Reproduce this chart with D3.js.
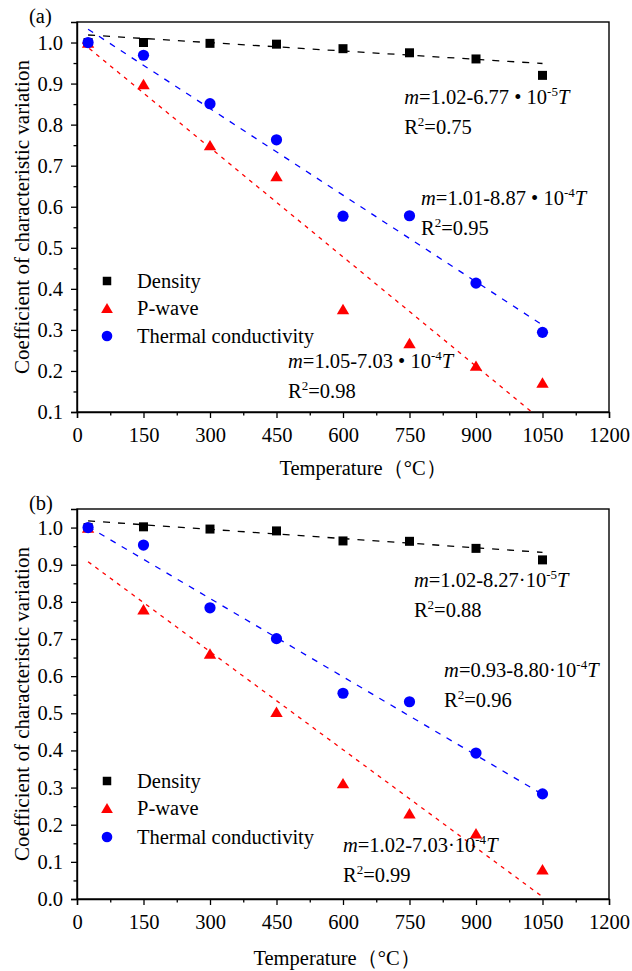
<!DOCTYPE html>
<html>
<head>
<meta charset="utf-8">
<script src="https://cdn.jsdelivr.net/npm/d3@7"></script>
<style>
  html, body { margin: 0; padding: 0; background: #fff; }
</style>
</head>
<body>
<svg id="chart" width="632" height="971"></svg>
<script>
// ---- data ----
const temperatures = [25, 150, 300, 450, 600, 750, 900, 1050];
const xTickValues = [0, 150, 300, 450, 600, 750, 900, 1050, 1200];
const seriesNames = ["Density", "P-wave", "Thermal conductivity"];

// panel (a)
const densityA = [1.000, 1.000, 0.998, 0.996, 0.985, 0.975, 0.960, 0.920];
const pwaveA   = [1.000, 0.899, 0.750, 0.675, 0.351, 0.268, 0.213, 0.172];
const thermalA = [1.000, 0.969, 0.851, 0.763, 0.577, 0.578, 0.414, 0.294];
// fitted lines: [intercept, mantissa, exponent, R²] -> m = intercept - mantissa·10^exponent·T
const fitDensityA = [1.02, 6.77, -5, 0.75];
const fitPwaveA   = [1.01, 8.87, -4, 0.95];
const fitThermalA = [1.05, 7.03, -4, 0.98];

// panel (b)
const densityB = [1.000, 1.002, 0.996, 0.991, 0.964, 0.963, 0.944, 0.913];
const pwaveB   = [1.000, 0.780, 0.661, 0.504, 0.312, 0.231, 0.177, 0.080];
const thermalB = [1.000, 0.953, 0.784, 0.701, 0.554, 0.531, 0.393, 0.283];
const fitDensityB = [1.02, 8.27, -5, 0.88];
const fitPwaveB   = [0.93, 8.80, -4, 0.96];
const fitThermalB = [1.02, 7.03, -4, 0.99];

// ---- drawing ----
const svg = d3.select("#chart");
const colors = ["#000000", "#ff0000", "#0000ff"];
const SERIF = "'Liberation Serif', 'Times New Roman', serif";
const FONT = 20.5;

function fitValue(fit, t) {
  return fit[0] - fit[1] * Math.pow(10, fit[2]) * t;
}

function markerPath(kind, s) {
  if (kind === 0) { const h = s / 2; return `M${-h},${-h}H${h}V${h}H${-h}Z`; }
  if (kind === 1) { const w = s * 0.62, h = s * 0.52; return `M0,${-h}L${w},${h}L${-w},${h}Z`; }
  const r = s * 0.56;
  return `M${r},0A${r},${r} 0 1 1 ${-r},0A${r},${r} 0 1 1 ${r},0Z`;
}

function drawPanel(p) {
  const x = d3.scaleLinear().domain([0, 1200]).range([77, 609]);
  const y = d3.scaleLinear().domain(p.yDomain).range([p.bottom, p.top]);
  const g = svg.append("g");

  const clipId = "clip-" + p.id;
  g.append("clipPath").attr("id", clipId)
    .append("rect").attr("x", 77).attr("y", p.top).attr("width", 532).attr("height", p.bottom - p.top);

  // frame
  g.append("rect").attr("x", 77).attr("y", p.top).attr("width", 532).attr("height", p.bottom - p.top)
    .attr("fill", "none").attr("stroke", "#000").attr("stroke-width", 1.4);

  // x axis: major + minor ticks
  const xMinor = d3.range(75, 1200, 150);
  g.append("g").attr("transform", `translate(0,${p.bottom})`)
    .call(d3.axisBottom(x).tickValues(xTickValues).tickFormat(d3.format("d")).tickSize(6).tickPadding(9));
  g.append("g").attr("transform", `translate(0,${p.bottom})`)
    .call(d3.axisBottom(x).tickValues(xMinor).tickFormat("").tickSize(3.5))
    .select(".domain").remove();

  // y axis
  const yMajor = d3.range(Math.round(p.yDomain[0] * 10), 11).map(v => v / 10);
  const yMinor = d3.range(Math.round(p.yDomain[0] * 20) + 1, 21, 2).map(v => v / 20);
  g.append("g").attr("transform", "translate(77,0)")
    .call(d3.axisLeft(y).tickValues(yMajor).tickFormat(d3.format(".1f")).tickSize(6).tickPadding(8));
  g.append("g").attr("transform", "translate(77,0)")
    .call(d3.axisLeft(y).tickValues(yMinor).tickFormat("").tickSize(3.5))
    .select(".domain").remove();

  g.selectAll(".tick line").attr("stroke-width", 1.3);
  g.selectAll(".domain").attr("stroke-width", 1.4);
  g.selectAll(".tick text").attr("font-size", FONT).attr("fill", "#000");

  // fitted dashed lines
  const dashes = ["7,8", "4,5", "6,7"];
  const line = d3.line().x(d => x(d[0])).y(d => y(d[1]));
  p.fits.forEach((fit, i) => {
    const t0 = p.fitStart[i];
    g.append("path")
      .attr("clip-path", `url(#${clipId})`)
      .attr("d", line([[t0, fitValue(fit, t0)], [1050, fitValue(fit, 1050)]]))
      .attr("fill", "none").attr("stroke", colors[i]).attr("stroke-width", 1.3)
      .attr("stroke-dasharray", dashes[i]);
  });

  // data markers
  p.series.forEach((vals, i) => {
    g.append("g").selectAll("path").data(vals).join("path")
      .attr("transform", (d, j) => `translate(${x(temperatures[j])},${y(d)})`)
      .attr("d", markerPath(i, i === 0 ? 9 : 10))
      .attr("fill", colors[i]);
  });

  // legend
  p.legendY.forEach((ly, i) => {
    g.append("path").attr("transform", `translate(107,${ly})`)
      .attr("d", markerPath(i, i === 0 ? 8.5 : 9.5)).attr("fill", colors[i]);
    g.append("text").attr("x", 137).attr("y", ly + 7)
      .attr("font-size", FONT).text(seriesNames[i]);
  });

  // equations
  const fmt2 = d3.format(".2f");
  p.equations.forEach(eq => {
    const fit = eq.fit;
    const ex = x(eq.at[0]), ey = y(eq.at[1]);
    const t = g.append("text").attr("x", ex).attr("y", ey).attr("font-size", FONT);
    t.append("tspan").attr("font-style", "italic").text("m");
    t.append("tspan").text("=" + fmt2(fit[0]) + "-" + fmt2(fit[1]) + p.sep + "10");
    t.append("tspan").attr("font-size", 13).attr("dy", -8).text(String(fit[2]));
    t.append("tspan").attr("font-style", "italic").attr("dy", 8).text("T");
    const r = g.append("text").attr("x", ex).attr("y", ey + 30).attr("font-size", FONT);
    r.append("tspan").text("R");
    r.append("tspan").attr("font-size", 13).attr("dy", -8).text("2");
    r.append("tspan").attr("dy", 8).text("=" + fmt2(fit[3]));
  });

  // panel letter
  g.append("text").attr("x", 29).attr("y", p.top + 1).attr("font-size", FONT).text(p.letter);

  // axis titles
  g.append("text").attr("x", p.xTitleX).attr("y", p.xTitleY).attr("text-anchor", "middle")
    .attr("font-size", FONT).text("Temperature（°C）");
  g.append("text")
    .attr("transform", `translate(22,${(p.top + p.bottom) / 2}) rotate(-90)`)
    .attr("text-anchor", "middle").attr("dominant-baseline", "central")
    .attr("font-size", 21).text("Coefficient of characteristic variation");
}

drawPanel({
  id: "a", letter: "(a)", top: 22, bottom: 412, yDomain: [0.1, 1.05],
  series: [densityA, pwaveA, thermalA],
  fits: [fitDensityA, fitPwaveA, fitThermalA],
  fitStart: [25, 12, 25],
  sep: " • ",
  legendY: [281, 308, 336],
  equations: [
    { fit: fitDensityA, at: [738, 0.850] },
    { fit: fitPwaveA,   at: [776, 0.604] },
    { fit: fitThermalA, at: [476, 0.207] }
  ],
  xTitleX: 363, xTitleY: 475
});

drawPanel({
  id: "b", letter: "(b)", top: 509, bottom: 899, yDomain: [0, 1.05],
  series: [densityB, pwaveB, thermalB],
  fits: [fitDensityB, fitPwaveB, fitThermalB],
  fitStart: [25, 25, 25],
  sep: "·",
  legendY: [781, 808, 837],
  equations: [
    { fit: fitDensityB, at: [760, 0.840] },
    { fit: fitPwaveB,   at: [828, 0.598] },
    { fit: fitThermalB, at: [600, 0.127] }
  ],
  xTitleX: 337, xTitleY: 965
});

// serif typeface on every label, overriding the axis generator's default
svg.selectAll("text").style("font-family", SERIF);
</script>
</body>
</html>
